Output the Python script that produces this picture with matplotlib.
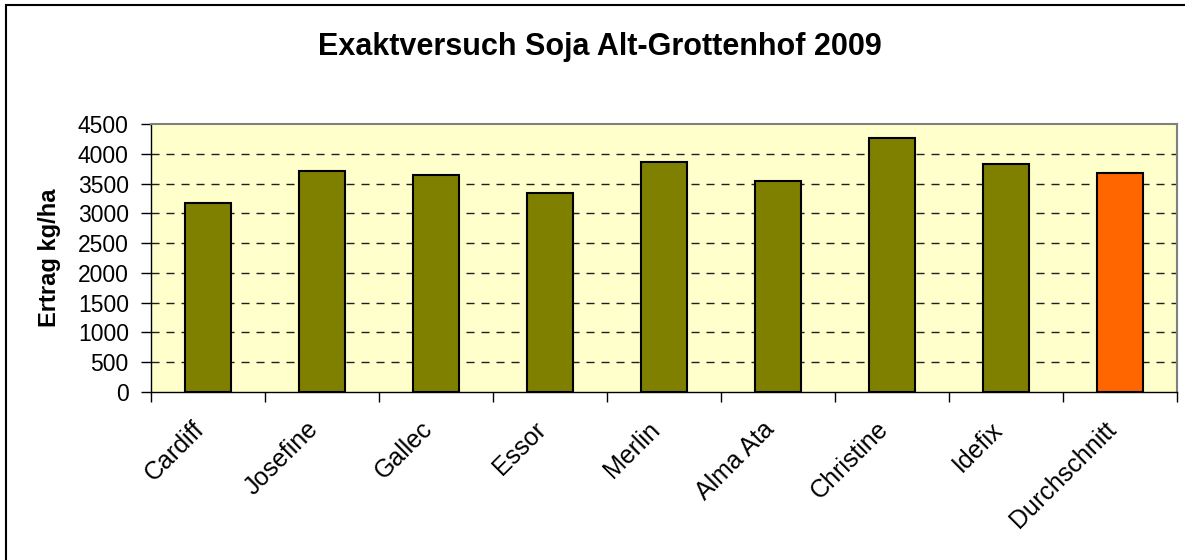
import matplotlib.pyplot as plt
from matplotlib.patches import Rectangle
from matplotlib.transforms import ScaledTranslation

plt.rcParams['font.family'] = ['Liberation Sans', 'DejaVu Sans']

# Ertrag je Sorte (kg/ha)
sorten = ["Cardiff", "Josefine", "Gallec", "Essor", "Merlin",
          "Alma Ata", "Christine", "Idefix", "Durchschnitt"]
ertrag = [3180, 3705, 3640, 3345, 3870, 3545, 4260, 3835, 3672]
farben = ["#808000"] * 8 + ["#FF6600"]
y_ticks = list(range(0, 4501, 500))

fig = plt.figure(figsize=(11.85, 5.6), dpi=100)
W, H = 1185, 560
ax = fig.add_axes([151 / W, 1 - 392 / H, (1177 - 151) / W, (392 - 124) / H])
ax.set_facecolor("#FFFFCC")

x = range(len(sorten))
ax.bar(x, ertrag, width=0.4, color=farben, edgecolor="black", linewidth=1.5, zorder=3)

ax.set_xlim(-0.5, len(sorten) - 0.5)
ax.set_ylim(0, 4500)
ax.set_yticks(y_ticks)
ax.set_yticklabels([str(v) for v in y_ticks], fontsize=16.5)
for v in y_ticks[1:-1]:
    ax.axhline(v, color="#202020", linestyle=(0, (5.8, 5)), linewidth=1, zorder=1)

ax.set_xticks(list(x))
ax.set_xticklabels(sorten, fontsize=18, rotation=45, ha="right",
                   rotation_mode="anchor")
ax.tick_params(axis="x", which="major", length=0, pad=18)
shift = ScaledTranslation(-16 / 100, 0, fig.dpi_scale_trans)
for lbl in ax.get_xticklabels():
    lbl.set_transform(lbl.get_transform() + shift)
ax.set_xticks([i - 0.5 for i in range(len(sorten) + 1)], minor=True)
ax.tick_params(axis="x", which="minor", length=7, width=1, color="black")
ax.tick_params(axis="y", length=7, width=1, pad=9)

for s in ["top", "right"]:
    ax.spines[s].set_color("#808080")
    ax.spines[s].set_linewidth(1.5)
for s in ["left", "bottom"]:
    ax.spines[s].set_color("black")
    ax.spines[s].set_linewidth(1)

ax.set_ylabel("Ertrag kg/ha", fontsize=17, fontweight="bold", labelpad=12)
fig.text(600 / W, 1 - 47 / H, "Exaktversuch Soja Alt-Grottenhof 2009",
         fontsize=22, fontweight="bold", ha="center", va="center")

fig.patches.append(Rectangle((6 / W, -0.02), 1.05, 1 - 5 / H + 0.02,
                             transform=fig.transFigure, fill=False,
                             edgecolor="black", linewidth=1.5))

fig.savefig("out.png", dpi=100)
